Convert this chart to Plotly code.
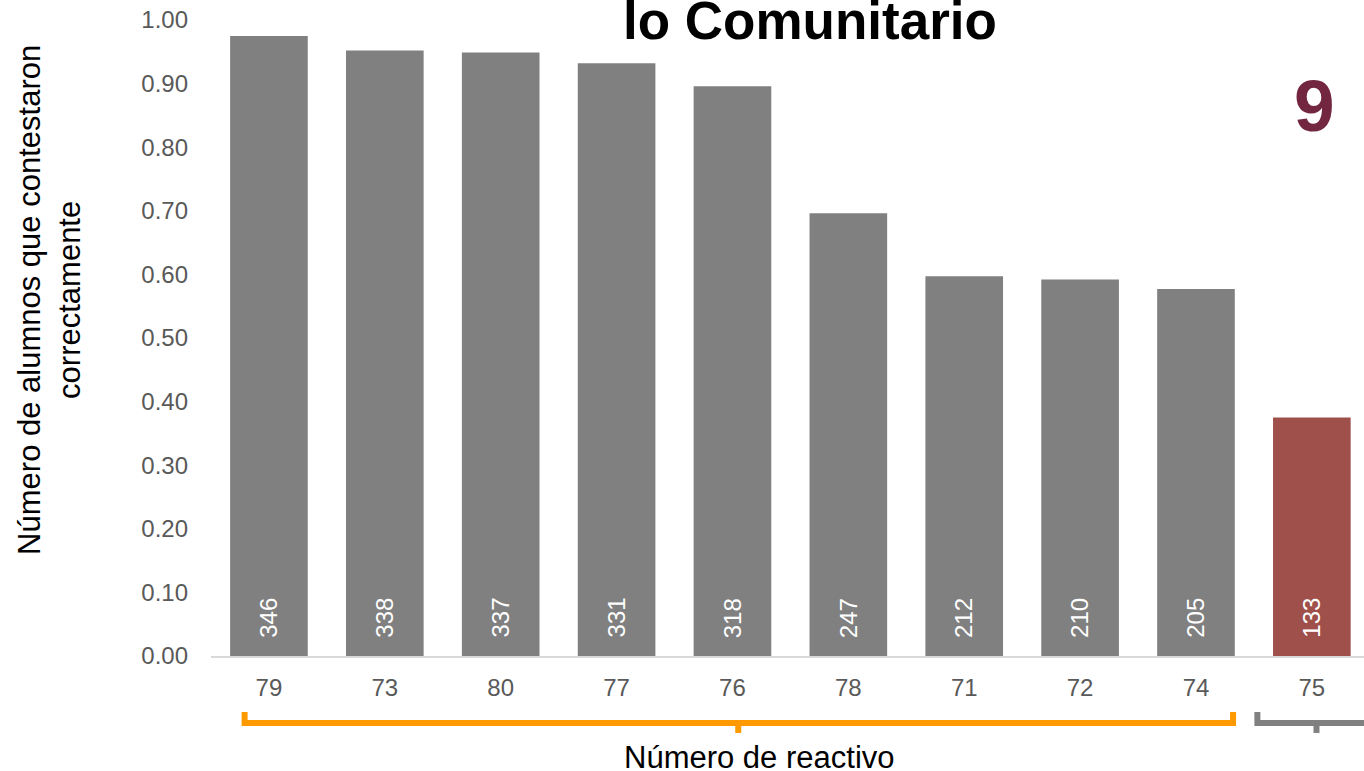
import plotly.graph_objects as go

categories = ["79", "73", "80", "77", "76", "78", "71", "72", "74", "75"]
proportions = [0.975, 0.952, 0.949, 0.932, 0.896, 0.696, 0.597, 0.592, 0.577, 0.375]
counts = [346, 338, 337, 331, 318, 247, 212, 210, 205, 133]
bar_colors = ["#808080"] * 9 + ["#A0504A"]
y_ticks = [0.0, 0.1, 0.2, 0.3, 0.4, 0.5, 0.6, 0.7, 0.8, 0.9, 1.0]

font = "Liberation Sans, Arial, sans-serif"

fig = go.Figure()
fig.add_trace(go.Bar(
    x=categories, y=proportions, marker_color=bar_colors,
    marker_line_width=0, width=0.67, hoverinfo="skip",
))

annotations = []
for i, n in enumerate(counts):
    annotations.append(dict(x=i, y=0.06, xref="x", yref="y", text=str(n), textangle=-90,
                            showarrow=False, xanchor="center", yanchor="middle",
                            font=dict(family=font, size=24, color="white")))

annotations.append(dict(text="<b>lo Comunitario</b>", x=0.5195, y=1.0, xref="paper", yref="paper",
                        showarrow=False, xanchor="center", yanchor="middle", yshift=0,
                        font=dict(family=font, size=53, color="black")))
annotations.append(dict(text="<b>9</b>", x=0.9575, y=0.866, xref="paper", yref="paper",
                        showarrow=False, xanchor="center", yanchor="middle",
                        font=dict(family=font, size=73, color="#722640")))
annotations.append(dict(text="Número de alumnos que contestaron<br>correctamente",
                        x=-0.1396, y=0.56, xref="paper", yref="paper", textangle=-90,
                        showarrow=False, xanchor="center", yanchor="middle",
                        font=dict(family=font, size=31, color="black")))
annotations.append(dict(text="Número de reactivo", x=0.4753, y=-0.159, xref="paper", yref="paper",
                        showarrow=False, xanchor="center", yanchor="middle",
                        font=dict(family=font, size=31, color="black")))

shapes = []
def bracket(x0, x1, xm, color):
    shapes.append(dict(type="path", xref="x", yref="paper",
                       path=f"M {x0},-0.088 L {x0},-0.1055 L {x1},-0.1055 L {x1},-0.088",
                       line=dict(color=color, width=6)))
    shapes.append(dict(type="line", xref="x", yref="paper",
                       x0=xm, x1=xm, y0=-0.1055, y1=-0.121, line=dict(color=color, width=6)))

bracket(-0.21, 8.32, 4.05, "#FF9900")
bracket(8.53, 9.7, 9.04, "#808080")

fig.update_layout(
    width=1364, height=771,
    margin=dict(l=211, r=0, t=20, b=115, autoexpand=False),
    plot_bgcolor="white", paper_bgcolor="white",
    showlegend=False,
    annotations=annotations, shapes=shapes,
    xaxis=dict(type="category", range=[-0.5, 9.45], showgrid=False, zeroline=False,
               showline=True, linecolor="#D9D9D9", linewidth=2,
               ticks="", tickfont=dict(family=font, size=24, color="#595959"),
               ticklabelstandoff=9),
    yaxis=dict(range=[0, 1.0], tickvals=y_ticks, tickformat=".2f", showgrid=False,
               zeroline=False, showline=False, ticks="",
               tickfont=dict(family=font, size=24, color="#595959"),
               ticklabelstandoff=22),
)

fig.write_html("out.html", config={"displayModeBar": False},
               post_script="document.body.style.margin='0';document.body.style.overflow='hidden';")
